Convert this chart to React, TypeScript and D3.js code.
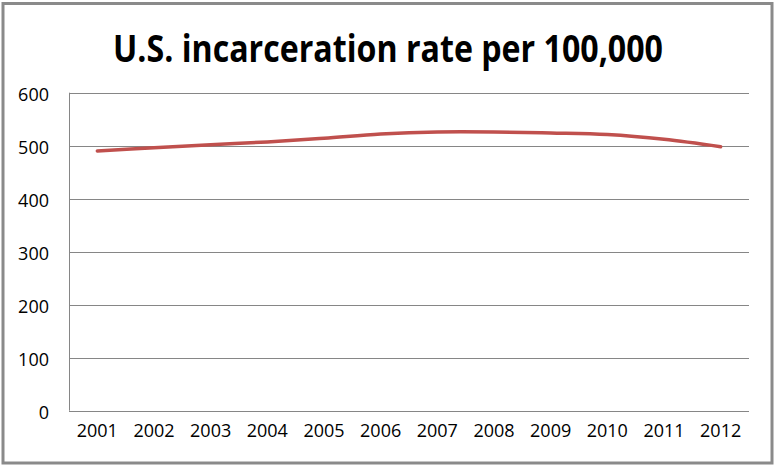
import React from "react";
import * as d3 from "d3";

const years = ["2001","2002","2003","2004","2005","2006","2007","2008","2009","2010","2011","2012"];
const rates = [490, 496, 502, 507, 514, 522, 526, 526, 524, 521, 512, 498];
const yTicks = [0, 100, 200, 300, 400, 500, 600];
const title = "U.S. incarceration rate per 100,000";

export default function App() {
  const W = 776, H = 469;
  const left = 69, right = 749, top = 92.7, bottom = 410.7;
  const x = d3.scaleBand<string>().domain(years).range([left, right]).padding(0);
  const y = d3.scaleLinear().domain([0, 600]).range([bottom, top]);
  const line = d3.line<number>()
    .x((_, i) => (x(years[i]) as number) + x.bandwidth() / 2)
    .y((d) => y(d))
    .curve(d3.curveCatmullRom.alpha(0.5));
  const font = "'Open Sans', sans-serif";
  return (
    <svg width={W} height={H} style={{ position: "absolute", left: 0, top: 0, background: "#fff" }}>
      <rect x={0} y={0} width={W} height={H} fill="#fff" />
      <rect x={3} y={3.5} width={769} height={459.5} fill="#fff" stroke="#8a8a8a" strokeWidth={3} />
      <text x={388} y={62} textAnchor="middle" fontFamily={font} fontWeight="bold" fontSize={37}
        textLength={550} lengthAdjust="spacingAndGlyphs" fill="#000">{title}</text>
      {yTicks.map((t) => (
        <g key={t}>
          <line x1={left} x2={right} y1={Math.round(y(t)) + 0.5} y2={Math.round(y(t)) + 0.5} stroke="#868686" strokeWidth={1} />
          <text x={49} y={y(t) + 1} textAnchor="end" dominantBaseline="central" fontFamily={font} fontSize={18} fill="#000">{t}</text>
        </g>
      ))}
      <line x1={left + 0.5} x2={left + 0.5} y1={y(600)} y2={y(0)} stroke="#868686" strokeWidth={1} />
      {years.map((yr) => (
        <text key={yr} x={(x(yr) as number) + x.bandwidth() / 2} y={437} textAnchor="middle"
          fontFamily={font} fontSize={18} fill="#000">{yr}</text>
      ))}
      <path d={line(rates) || ""} fill="none" stroke="#C0504D" strokeWidth={3.5} strokeLinecap="round" />
    </svg>
  );
}
